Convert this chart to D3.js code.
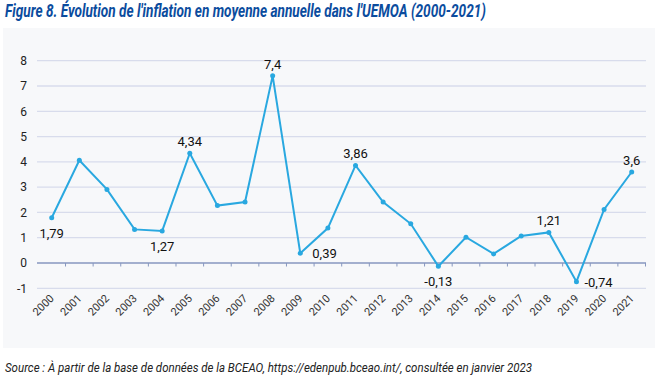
<!DOCTYPE html>
<html><head><meta charset="utf-8">
<script src="https://cdn.jsdelivr.net/npm/d3@7"></script>
<style>body{margin:0;background:#fff}svg{display:block}</style>
</head><body>
<svg id="c" width="658" height="382"></svg>
<script>
const years = ["2000","2001","2002","2003","2004","2005","2006","2007","2008","2009","2010","2011","2012","2013","2014","2015","2016","2017","2018","2019","2020","2021"];
const inflation = [1.79,4.06,2.91,1.33,1.27,4.34,2.27,2.41,7.4,0.39,1.38,3.86,2.41,1.55,-0.13,1.02,0.36,1.07,1.21,-0.74,2.12,3.6];
const labelled = {"2000":"below","2004":"below","2005":"above","2008":"above","2009":"right","2011":"above","2014":"below","2018":"above","2019":"right","2021":"above"};
const yTicks = [-1,0,1,2,3,4,5,6,7,8];

const svg = d3.select("#c");
svg.append("rect").attr("x",3).attr("y",28).attr("width",652).attr("height",320).attr("fill","#f7f8fa");

svg.append("text").attr("x",5).attr("y",17).text("Figure 8. Évolution de l'inflation en moyenne annuelle dans l'UEMOA (2000-2021)")
  .attr("font-family","Roboto").attr("font-weight","bold").attr("font-style","italic").attr("font-size",18.5)
  .attr("fill","#0b4c9e").attr("textLength",481).attr("lengthAdjust","spacingAndGlyphs");

svg.append("text").attr("x",5).attr("y",372).text("Source : À partir de la base de données de la BCEAO, https://edenpub.bceao.int/, consultée en janvier 2023")
  .attr("font-family","Roboto").attr("font-style","italic").attr("font-size",13)
  .attr("fill","#222").attr("textLength",527).attr("lengthAdjust","spacingAndGlyphs");

const x = d3.scaleBand().domain(years).range([37.9,645.5]);
const y = d3.scaleLinear().domain([-1,8]).range([288.3,60.7]);

const grid = svg.append("g");
yTicks.forEach(t=>{
  if(t===0) return;
  grid.append("line").attr("x1",37).attr("x2",646).attr("y1",y(t)).attr("y2",y(t))
    .attr("stroke","#d8dcec").attr("stroke-width",1.3);
});
const yAxis = svg.append("g").attr("transform","translate(37,0)")
  .call(d3.axisLeft(y).tickValues(yTicks).tickSize(0).tickPadding(10).tickFormat(d=>d));
yAxis.select(".domain").remove();
yAxis.selectAll("text").attr("font-family","Roboto").attr("font-size",12).attr("fill","#222");

// zero axis line with ticks at band boundaries
const xAxis = svg.append("g").attr("transform",`translate(0,${y(0)})`);
xAxis.append("line").attr("x1",37).attr("x2",646).attr("stroke","#8797bf").attr("stroke-width",1.3);
years.forEach((yr,i)=>{
  const bx = x(yr)+x.bandwidth();
  xAxis.append("line").attr("x1",bx).attr("x2",bx).attr("y1",0).attr("y2",3.5).attr("stroke","#8797bf").attr("stroke-width",1);
});
years.forEach(yr=>{
  const cx = x(yr)+x.bandwidth()/2+3;
  svg.append("text").attr("transform",`translate(${cx},${299}) rotate(-45)`).attr("text-anchor","end")
    .text(yr).attr("font-family","Roboto").attr("font-size",11).attr("fill","#333");
});

const pts = years.map((yr,i)=>({yr, v:inflation[i]}));
const line = d3.line().x(d=>x(d.yr)+x.bandwidth()/2).y(d=>y(d.v));
svg.append("path").datum(pts).attr("d",line).attr("fill","none").attr("stroke","#29a8e0").attr("stroke-width",2);
svg.selectAll("circle.p").data(pts).enter().append("circle")
  .attr("cx",d=>x(d.yr)+x.bandwidth()/2).attr("cy",d=>y(d.v)).attr("r",2.5).attr("fill","#29a8e0");

pts.forEach(d=>{
  const pos = labelled[d.yr]; if(!pos) return;
  const cx = x(d.yr)+x.bandwidth()/2, cy = y(d.v);
  const t = svg.append("text").text(String(d.v).replace(".",","))
    .attr("font-family","Roboto").attr("font-size",13).attr("fill","#111");
  if(pos==="above") t.attr("x",cx).attr("y",cy-7).attr("text-anchor","middle");
  else if(pos==="below") t.attr("x",cx).attr("y",cy+20).attr("text-anchor","middle");
  else t.attr("x",cx+(d.v<0?8:12)).attr("y",cy+5).attr("text-anchor","start");
});
</script>
</body></html>
